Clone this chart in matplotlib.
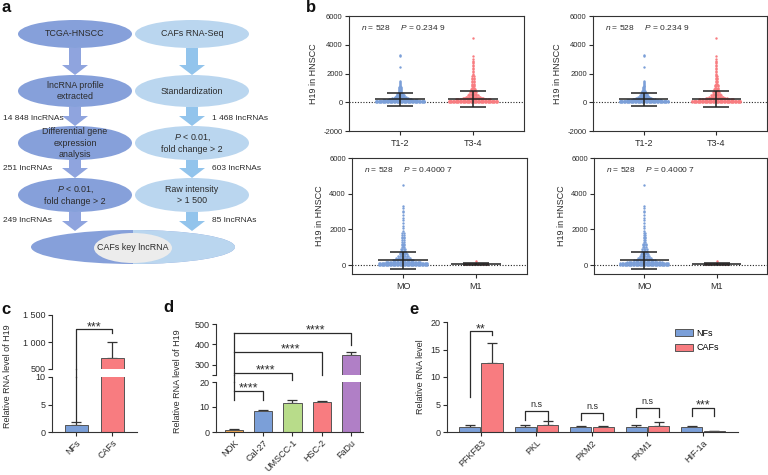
import numpy as np
import matplotlib.pyplot as plt
from matplotlib.patches import Ellipse, FancyArrow, Rectangle, Patch
from matplotlib.lines import Line2D

plt.rcParams['font.family'] = ['Liberation Sans', 'DejaVu Sans']
plt.rcParams['mathtext.fontset'] = 'custom'
plt.rcParams['mathtext.rm'] = 'Liberation Sans'
plt.rcParams['mathtext.it'] = 'Liberation Sans:italic'
plt.rcParams['axes.unicode_minus'] = False
plt.rcParams['axes.linewidth'] = 0.8
plt.rcParams['axes.edgecolor'] = '#333333'

# ---------------- data ----------------
# a: workflow boxes
flow_left = ['TCGA-HNSCC', 'lncRNA profile\nextracted', 'Differential gene\nexpression\nanalysis',
             '$P$ < 0.01,\nfold change > 2']
flow_right = ['CAFs RNA-Seq', 'Standardization', '$P$ < 0.01,\nfold change > 2', 'Raw intensity\n> 1 500']
counts_left = ['14 848 lncRNAs', '251 lncRNAs', '249 lncRNAs']
counts_right = ['1 468 lncRNAs', '603 lncRNAs', '85 lncRNAs']
final_label = 'CAFs key lncRNA'

# b: H19 in HNSCC, value levels and number of samples at each level
t12_levels = [3300, 3200, 2450, 1500, 1430, 1370, 1300, 1230, 1160, 1100,
              1030, 960, 900, 840, 780, 720, 660, 600, 540, 480,
              420, 360, 300, 240, 180, 120, 60, 0]
t12_counts = [1, 1, 1, 1, 1, 1, 1, 1, 1, 1,
              2, 2, 2, 2, 3, 3, 3, 4, 5, 6,
              7, 9, 12, 17, 26, 36, 36, 36]
t34_levels = [4500, 3250, 3000, 2900, 2800, 2700, 2600, 2500, 2400, 2300,
              2200, 2100, 2000, 1900, 1800, 1700, 1600, 1500, 1400, 1300,
              1200, 1100, 1000, 900, 800, 700, 600, 500, 400, 300,
              200, 120, 60, 0]
t34_counts = [1, 1, 1, 1, 1, 1, 1, 1, 1, 1,
              1, 1, 1, 1, 2, 2, 2, 2, 2, 2,
              3, 3, 3, 4, 4, 5, 6, 8, 11, 16,
              26, 36, 36, 36]
m0_levels = [4500, 3300, 3200, 3050, 2950, 2800, 2650, 2500, 2350, 2200, 2050, 1900,
             1800, 1700, 1600, 1500, 1400, 1300, 1200, 1100, 1000, 900,
             800, 700, 600, 500, 400, 300, 200, 120, 60, 0]
m0_counts = [1, 1, 1, 1, 1, 1, 1, 1, 1, 1, 1, 1,
             2, 2, 2, 2, 2, 2, 3, 3, 3, 4,
             4, 5, 6, 8, 11, 16, 26, 36, 36, 36]
m1_levels = [230, 60]
m1_counts = [1, 6]
t_cats = ['T1-2', 'T3-4']
m_cats = ['MO', 'M1']
t_stats = '$n$ = 528     $P$ = 0.234 9'
m_stats = '$n$ = 528     $P$ = 0.4000 7'
t_mean, t_sd = [200, 250], [430, 550]
m_mean, m_sd = [260, 80], [490, 60]

# c: NFs vs CAFs
c_labels = ['NFs', 'CAFs']
c_values = [1.2, 700]
c_sd = [0.6, 300]

# d: cell lines
d_labels = ['NOK', 'Cal-27', 'UMSCC-1', 'HSC-2', 'FaDu']
d_values = [0.8, 8.5, 11.8, 12.2, 350]
d_sd = [0.3, 0.3, 1.0, 0.4, 15]

# e: glycolysis genes
e_genes = ['PFKFB3', 'PKL', 'PKM2', 'PKM1', 'HIF-1a']
e_nfs = [1.0, 1.0, 1.0, 1.0, 1.0]
e_nfs_sd = [0.3, 0.3, 0.1, 0.3, 0.1]
e_cafs = [12.5, 1.3, 1.0, 1.1, 0.1]
e_cafs_sd = [3.7, 0.7, 0.15, 0.8, 0.05]
e_sig = ['**', 'n.s', 'n.s', 'n.s', '***']

# ---------------- style ----------------
BLUE = '#7b9fd8'
RED = '#f87c80'
d_colors = ['#eea752', BLUE, '#b8dc8a', RED, '#b07fc6']
EDGE = '#555555'
INK = '#2b2b2b'

W, H = 768, 475
fig = plt.figure(figsize=(W / 100, H / 100), dpi=100)


def px_axes(x0, y0, x1, y1):
    return fig.add_axes([x0 / W, 1 - y1 / H, (x1 - x0) / W, (y1 - y0) / H])


def fig_line(p0, p1, lw=0.9):
    inv = fig.transFigure.inverted()
    a, b = inv.transform(p0), inv.transform(p1)
    fig.add_artist(Line2D([a[0], b[0]], [a[1], b[1]], transform=fig.transFigure, color=INK, lw=lw))


def bridge(ax_hi, ax_lo, x):
    # continue a bracket leg through the gap of a broken axis
    p_lo = ax_lo.transData.transform((x, ax_lo.get_ylim()[1]))
    p_hi = ax_hi.transData.transform((x, ax_hi.get_ylim()[0]))
    fig_line(p_lo, p_hi)


def style_ticks(ax, size=6.5):
    ax.tick_params(direction='out', length=3, width=0.8, labelsize=size, pad=1.5, colors=INK)


# ---------------- a: workflow ----------------
ax = px_axes(0, 0, 300, 300)
ax.set_xlim(0, 300)
ax.set_ylim(300, 0)
ax.axis('off')
col_x = [75, 192]
row_y = [34, 91, 143, 195]
row_h = [28, 32, 34, 34]
fills = ['#86a0da', '#bad6ef']
arrows = ['#8fa4de', '#92c4ec']
for c, texts in enumerate([flow_left, flow_right]):
    for r, t in enumerate(texts):
        ax.add_patch(Ellipse((col_x[c], row_y[r]), 114, row_h[r], color=fills[c], lw=0))
        ax.text(col_x[c], row_y[r], t, ha='center', va='center', fontsize=6.4, color=INK, linespacing=1.3)
    tops = [row_y[r + 1] - row_h[r + 1] / 2 for r in range(3)] + [231]
    for r in range(4):
        y0 = row_y[r] + row_h[r] / 2
        ax.add_patch(FancyArrow(col_x[c], y0, 0, tops[r] - y0, width=12, head_width=26, head_length=10,
                                length_includes_head=True, color=arrows[c], lw=0))
label_y = [118, 168, 220]
for i in range(3):
    ax.text(3, label_y[i], counts_left[i], ha='left', va='center', fontsize=6, color=INK)
    ax.text(212, label_y[i], counts_right[i], ha='left', va='center', fontsize=6, color=INK)
big = Ellipse((133, 247), 204, 34, color=fills[0], lw=0)
ax.add_patch(big)
half = Ellipse((133, 247), 204, 34, color=fills[1], lw=0)
ax.add_patch(half)
clip = Rectangle((133, 200), 120, 100, transform=ax.transData)
half.set_clip_path(clip)
ax.add_patch(Ellipse((133, 248), 78, 30, color='#ececec', lw=0))
ax.text(133, 248, final_label, ha='center', va='center', fontsize=6.4, color=INK)


# ---------------- b: swarm plots ----------------
def swarm(ax, pos, levels, counts, color, step):
    xs, ys = [], []
    for v, n in zip(levels, counts):
        xs += list(pos + (np.arange(n) - (n - 1) / 2) * step)
        ys += [v] * n
    ax.scatter(xs, ys, s=3, color=color, linewidths=0, zorder=2)


def b_panel(box, cats, groups, means, sds, stats, ylim, yticks):
    ax = px_axes(*box)
    for i, (lv, ct, col, step) in enumerate(groups):
        swarm(ax, i, lv, ct, col, step)
        m, s = means[i], sds[i]
        ax.hlines(m, i - 0.34, i + 0.34, color='#222222', lw=1.1, zorder=3)
        ax.vlines(i, m - s, m + s, color='#222222', lw=1.1, zorder=3)
        ax.hlines([m - s, m + s], i - 0.18, i + 0.18, color='#222222', lw=1.1, zorder=3)
    ax.axhline(0, color='#222222', lw=0.8, ls=(0, (1, 1.5)), zorder=1)
    ax.set_xlim(-0.7, 1.7)
    ax.set_ylim(*ylim)
    ax.set_yticks(yticks)
    ax.set_xticks([0, 1])
    ax.set_xticklabels(cats)
    style_ticks(ax, 5.5)
    ax.tick_params(axis='x', labelsize=6.5, pad=3)
    ax.set_ylabel('H19 in HNSCC', fontsize=6.5, labelpad=4, color=INK)
    ax.text(0.07, 0.9, stats, transform=ax.transAxes, fontsize=6, va='center', color=INK)


t_groups = [(t12_levels, t12_counts, BLUE, 0.019), (t34_levels, t34_counts, RED, 0.019)]
m_groups = [(m0_levels, m0_counts, BLUE, 0.019), (m1_levels, m1_counts, RED, 0.06)]
for box in [(349, 16, 524, 131), (593, 16, 767, 131)]:
    b_panel(box, t_cats, t_groups, t_mean, t_sd, t_stats, (-2000, 6000), [-2000, 0, 2000, 4000, 6000])
for box in [(352, 158, 527, 274), (594, 158, 767, 274)]:
    b_panel(box, m_cats, m_groups, m_mean, m_sd, m_stats, (-500, 6000), [0, 2000, 4000, 6000])


# ---------------- bar helpers ----------------
def bars(ax, x, vals, sds, colors, width, **kw):
    ax.bar(x, vals, width, color=colors, edgecolor=EDGE, linewidth=0.7, zorder=2, **kw)
    ax.errorbar(x, vals, yerr=[np.zeros(len(vals)), sds], fmt='none', ecolor='#333333',
                elinewidth=0.9, capsize=3.5, capthick=0.9, zorder=1)


def star(ax, x, y, s, dy=-0.5):
    ax.annotate(s, (x, y), xytext=(0, dy), textcoords='offset points', ha='center', va='baseline',
                fontsize=9, color=INK, annotation_clip=False)


def broken_pair(hi_box, lo_box, xlim, labels, vals, sds, colors, width, hi_lim, hi_ticks, hi_ticklabels,
                lo_lim, lo_ticks):
    ax_hi, ax_lo = px_axes(*hi_box), px_axes(*lo_box)
    x = np.arange(len(labels))
    for a in (ax_hi, ax_lo):
        bars(a, x, vals, sds, colors, width)
        a.set_xlim(*xlim)
        a.spines[['top', 'right']].set_visible(False)
        style_ticks(a)
    ax_hi.set_ylim(*hi_lim)
    ax_hi.set_yticks(hi_ticks)
    ax_hi.set_yticklabels(hi_ticklabels)
    ax_hi.spines['bottom'].set_visible(False)
    ax_hi.tick_params(axis='x', bottom=False, labelbottom=False)
    ax_lo.set_ylim(*lo_lim)
    ax_lo.set_yticks(lo_ticks)
    ax_lo.set_xticks(x)
    ax_lo.set_xticklabels(labels, rotation=45, ha='right', rotation_mode='anchor')
    return ax_hi, ax_lo


# ---------------- c ----------------
c_hi, c_lo = broken_pair((52, 315, 137, 369), (52, 377, 137, 432), (-0.67, 1.69), c_labels, c_values, c_sd,
                         [BLUE, RED], 0.64, (500, 1500), [500, 1000, 1500], ['500', '1 000', '1 500'],
                         (0, 10), [0, 5, 10])
c_lo.plot([0, 0], [1.9, 10], color=INK, lw=0.9, clip_on=False)
bridge(c_hi, c_lo, 0)
c_hi.plot([0, 0, 1, 1], [500, 1236, 1236, 1160], color=INK, lw=0.9, clip_on=False)
star(c_hi, 0.5, 1236, '***')
fig.text(8 / W, 1 - 376 / H, 'Relative RNA level of H19', rotation=90, ha='center', va='center',
         fontsize=6.5, color=INK)

# ---------------- d ----------------
d_hi, d_lo = broken_pair((216, 324, 363, 375), (216, 382, 363, 432), (-0.6, 4.4), d_labels, d_values, d_sd,
                         d_colors, 0.62, (250, 500), [250, 300, 400, 500], ['', '300', '400', '500'],
                         (0, 20), [0, 10, 20])
d_lo.plot([0, 0], [12.8, 20], color=INK, lw=0.9, clip_on=False)
bridge(d_hi, d_lo, 0)
d_hi.plot([0, 0], [250, 456], color=INK, lw=0.9, clip_on=False)
d_lo.plot([0, 1, 1], [16.4, 16.4, 13.0], color=INK, lw=0.9, clip_on=False)
star(d_lo, 0.5, 16.4, '****')
d_br_top = [259, 363, 456]
d_br_leg = [225, 250, 398]
d_star_x = [1.08, 1.95, 2.8]
for k, i in enumerate([2, 3, 4]):
    d_hi.plot([0, i, i], [d_br_top[k], d_br_top[k], d_br_leg[k]], color=INK, lw=0.9, clip_on=False)
    star(d_hi, d_star_x[k], d_br_top[k], '****')
fig.text(177 / W, 1 - 381 / H, 'Relative RNA level of H19', rotation=90, ha='center', va='center',
         fontsize=6.5, color=INK)

# ---------------- e ----------------
ax = px_axes(447, 322, 738, 432)
ex = np.arange(len(e_genes))
bars(ax, ex - 0.2, e_nfs, e_nfs_sd, BLUE, 0.38)
bars(ax, ex + 0.2, e_cafs, e_cafs_sd, RED, 0.38)
ax.set_xlim(-0.61, 4.63)
ax.set_ylim(0, 20)
ax.set_yticks([0, 5, 10, 15, 20])
ax.set_xticks(ex)
ax.set_xticklabels(e_genes, rotation=45, ha='right', rotation_mode='anchor')
ax.spines[['top', 'right']].set_visible(False)
style_ticks(ax)
ax.set_ylabel('Relative RNA level', fontsize=6.5, labelpad=4, color=INK)
e_br_top = [18.3, 3.8, 3.5, 4.4, 4.4]
e_br_left = [6.3, 2.2, 2.2, 2.7, 2.9]
e_br_right = [17.6, 2.2, 2.2, 2.7, 2.9]
for i in ex:
    ax.plot([i - 0.2, i - 0.2, i + 0.2, i + 0.2], [e_br_left[i], e_br_top[i], e_br_top[i], e_br_right[i]],
            color=INK, lw=0.9, clip_on=False)
    if e_sig[i] == 'n.s':
        ax.annotate(e_sig[i], (i, e_br_top[i]), xytext=(0, 3), textcoords='offset points', ha='center',
                    va='baseline', fontsize=6.5, color=INK, annotation_clip=False)
    else:
        star(ax, i, e_br_top[i], e_sig[i])
handles = [Patch(facecolor=BLUE, edgecolor=EDGE, lw=0.7), Patch(facecolor=RED, edgecolor=EDGE, lw=0.7)]
ax.legend(handles, ['NFs', 'CAFs'], loc='upper left', bbox_to_anchor=(0.77, 0.97), frameon=False,
          fontsize=6.5, handlelength=2.0, handleheight=0.8, labelspacing=0.6, handletextpad=0.4,
          borderaxespad=0)

# ---------------- panel letters ----------------
for letter, x, y in [('a', 1, 8), ('b', 306, 8), ('c', 1, 309), ('d', 163, 308), ('e', 409, 309)]:
    fig.text(x / W, 1 - y / H, letter, fontsize=12, fontweight='bold', ha='left', va='center', color='#111111')

fig.savefig('out.png', dpi=100)
